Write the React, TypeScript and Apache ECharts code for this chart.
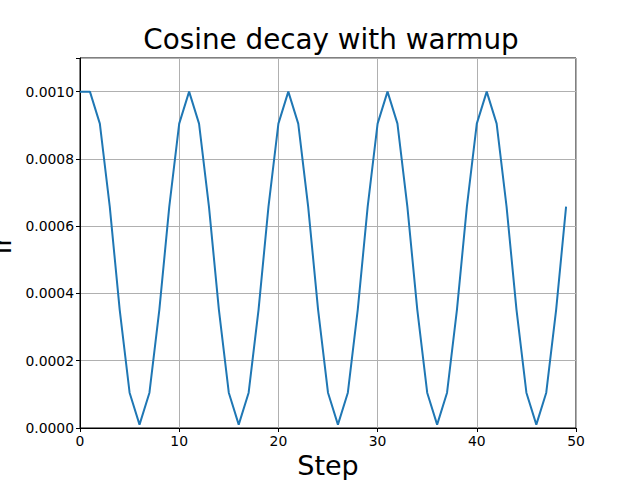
import React, { useEffect, useRef } from "react";
import * as echarts from "echarts";

const steps: number[] = Array.from({ length: 50 }, (_, i) => i);
const lrValues: number[] = [
  0.001, 0.001, 0.000905, 0.000658, 0.000352, 0.000105, 0.00001, 0.000105, 0.000352, 0.000658,
  0.000905, 0.001, 0.000905, 0.000658, 0.000352, 0.000105, 0.00001, 0.000105, 0.000352, 0.000658,
  0.000905, 0.001, 0.000905, 0.000658, 0.000352, 0.000105, 0.00001, 0.000105, 0.000352, 0.000658,
  0.000905, 0.001, 0.000905, 0.000658, 0.000352, 0.000105, 0.00001, 0.000105, 0.000352, 0.000658,
  0.000905, 0.001, 0.000905, 0.000658, 0.000352, 0.000105, 0.00001, 0.000105, 0.000352, 0.000658,
];
const titleText = "Cosine decay with warmup";
const xLabel = "Step";
const yLabel = "lr";

export default function App() {
  const ref = useRef<HTMLDivElement>(null);
  useEffect(() => {
    if (!ref.current) return;
    document.body.style.margin = "0";
    document.body.style.overflow = "hidden";
    const chart = echarts.init(ref.current, undefined, { renderer: "svg" });
    const font = "DejaVu Sans";
    chart.setOption({
      animation: false,
      backgroundColor: "#ffffff",
      title: {
        text: titleText,
        left: 326,
        top: 20,
        textAlign: "center",
        textStyle: { fontFamily: font, fontSize: 27.8, fontWeight: "normal", color: "#000" },
      },
      graphic: [
        {
          type: "text",
          x: 328,
          y: 479,
          style: {
            text: xLabel,
            fontFamily: font,
            fontSize: 27,
            fill: "#000",
            align: "center",
            verticalAlign: "bottom",
          },
        },
        {
          type: "text",
          x: 15,
          y: 245,
          rotation: Math.PI / 2,
          style: {
            text: yLabel,
            fontFamily: font,
            fontSize: 27,
            fill: "#000",
            align: "center",
            verticalAlign: "bottom",
          },
        },
      ],
      grid: {
        left: 80,
        right: 64,
        top: 58,
        bottom: 52,
        show: true,
        borderColor: "#000",
        borderWidth: 1,
        backgroundColor: "transparent",
        outerBoundsMode: "none",
        containLabel: false,
      },
      xAxis: {
        type: "value",
        min: 0,
        max: 50,
        interval: 10,
        axisLine: { show: true, onZero: false, lineStyle: { color: "#000", width: 1 } },
        axisTick: { show: true, inside: false, length: 4, lineStyle: { color: "#000" } },
        axisLabel: { fontFamily: font, fontSize: 13.9, color: "#000", margin: 6 },
        splitLine: { show: true, lineStyle: { color: "#b0b0b0", width: 1 } },
      },
      yAxis: {
        type: "value",
        min: 0,
        max: 0.0011,
        interval: 0.0002,
        axisLine: { show: true, lineStyle: { color: "#000", width: 1 } },
        axisTick: { show: true, inside: false, length: 4, lineStyle: { color: "#000" } },
        axisLabel: {
          fontFamily: font,
          fontSize: 13.9,
          color: "#000",
          margin: 6,
          formatter: (v: number) => (v > 0.00105 ? "" : v.toFixed(4)),
        },
        splitLine: { show: true, lineStyle: { color: "#b0b0b0", width: 1 } },
      },
      series: [
        {
          type: "line",
          data: steps.map((s, i) => [s, lrValues[i]]),
          showSymbol: false,
          symbol: "none",
          lineStyle: { color: "#1f77b4", width: 2 },
        },
      ],
    });
    return () => chart.dispose();
  }, []);
  return <div ref={ref} style={{ width: 640, height: 480 }} />;
}
